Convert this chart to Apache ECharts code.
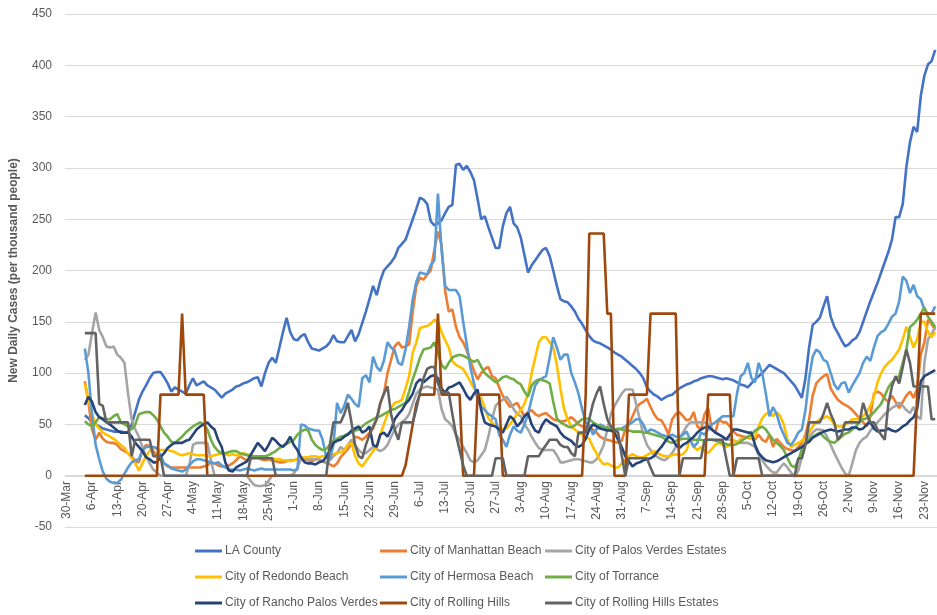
<!DOCTYPE html>
<html>
<head>
<meta charset="utf-8">
<script src="https://cdn.jsdelivr.net/npm/echarts@6/dist/echarts.min.js"></script>
<style>html,body{margin:0;padding:0;background:#fff}#c{width:937px;height:615px}</style>
</head>
<body>
<div id="c"></div>
<script>
// Daily categories 30-Mar .. 26-Nov; labels every 7th day
const MONTHS = ['Jan','Feb','Mar','Apr','May','Jun','Jul','Aug','Sep','Oct','Nov','Dec'];
const categories = [];
for (let d = new Date(Date.UTC(2020, 2, 30)), k = 0; k < 242; k++, d.setUTCDate(d.getUTCDate() + 1)) {
  categories.push(d.getUTCDate() + '-' + MONTHS[d.getUTCMonth()]);
}
// series values start on 4-Apr (index 5)
const leadNulls = [null, null, null, null, null];

const laCounty = [59,56,52,50,48,
46,45,44,43,43,43,42,42,50,62,
74,82,88,95,100,101,101,96,90,82,
86,84,82,80,88,95,88,90,92,88,
86,84,80,76,80,82,84,87,88,90,
91,93,95,96,87,100,110,115,110,125,
140,154,140,133,132,136,138,130,124,123,
122,124,126,130,137,131,130,130,136,142,
131,138,149,160,172,185,176,190,200,204,
208,213,222,226,230,240,250,260,271,269,
265,248,244,246,249,256,262,264,303,304,
298,302,296,288,270,250,253,242,232,222,
222,243,256,262,246,242,232,215,198,205,
210,215,220,222,214,200,185,172,170,169,
165,160,153,148,142,136,132,130,129,127,
125,123,120,118,116,113,110,107,104,100,
95,86,82,79,77,74,76,78,79,82,
85,87,89,90,92,93,95,96,97,97,
96,95,94,95,94,93,91,89,88,86,
90,94,97,100,104,108,106,104,102,100,
96,92,88,82,76,95,125,147,150,154,
165,175,155,145,139,132,126,128,132,134,
140,150,160,170,179,188,198,208,218,230,
252,252,265,301,325,340,335,370,390,401,
404,415];

const manhattan = [92,72,45,35,42,
36,33,32,32,30,26,24,22,19,14,
13,25,30,29,24,20,16,12,9,8,
8,8,8,8,8,8,8,8,9,10,
13,12,10,9,9,10,12,15,19,17,
15,16,19,18,16,15,16,15,14,13,
13,14,15,15,16,16,16,15,14,16,
16,14,13,11,9,12,18,22,26,32,
38,37,35,38,42,46,55,70,80,100,
113,126,130,125,126,128,160,185,193,191,
196,200,220,238,225,180,160,162,145,135,
130,122,112,102,94,100,104,106,97,95,
86,78,72,67,69,71,64,58,62,64,
60,58,60,61,58,55,54,53,53,55,
57,54,50,48,48,47,45,42,38,36,
35,34,33,32,34,45,50,58,66,70,
72,75,67,60,55,54,48,40,55,60,
62,58,54,55,62,48,45,60,66,45,
42,55,52,52,48,43,40,39,38,37,
36,35,40,35,33,40,28,36,32,28,
26,25,24,28,32,40,55,78,90,94,
97,99,85,79,74,71,69,67,64,60,
56,52,48,58,80,82,80,75,72,78,
72,66,72,78,82,76,85,118,130,152,
148,142];

const palosVerdesEstates = [113,118,139,159,142,
135,126,125,126,118,115,110,80,55,45,
38,28,19,12,6,3,0,0,0,0,
0,0,0,0,10,30,32,32,32,32,
15,0,0,0,0,0,0,0,0,0,
0,-5,-9,-10,-10,-9,-5,0,0,0,
0,0,0,2,8,16,16,16,16,16,
16,14,12,15,19,22,28,25,30,35,
30,25,22,22,25,28,26,24,26,30,
38,45,50,52,55,60,70,80,84,86,
87,86,85,84,65,55,52,48,40,35,
28,22,15,13,15,20,25,38,55,68,
72,74,77,72,65,60,58,50,45,38,
32,27,25,25,25,25,20,13,13,14,
15,16,16,15,14,13,13,16,22,30,
45,60,68,74,80,84,84,84,70,55,
40,30,25,20,18,16,15,18,22,28,
35,42,48,52,52,52,52,52,50,45,
42,40,38,36,35,34,33,32,32,32,
30,28,20,15,10,6,3,3,8,12,
8,3,-1,5,18,32,38,42,45,45,
44,38,30,22,15,8,2,0,12,25,
32,36,38,44,48,52,56,60,63,66,
68,71,68,64,61,67,58,55,110,133,
138,145];

const redondo = [90,75,60,50,46,
42,40,38,36,33,30,27,22,17,12,
5,12,19,24,28,26,25,25,25,24,
23,21,20,21,22,21,20,20,20,19,
19,20,21,22,21,20,21,20,20,22,
21,20,19,18,19,18,17,17,16,16,
15,15,14,15,16,17,18,18,19,19,
18,19,19,20,21,22,23,24,30,32,
19,12,9,14,19,24,28,40,50,60,
66,71,72,74,85,97,120,130,144,145,
146,148,152,150,140,132,125,112,108,106,
104,98,92,85,80,76,66,56,52,48,
46,45,46,50,55,60,64,70,80,100,
115,130,135,135,130,125,108,85,65,55,
48,45,42,40,38,36,28,22,15,11,
12,10,8,8,12,15,19,21,19,18,
18,20,22,24,22,20,19,19,20,21,
20,21,25,35,28,25,28,24,22,26,
30,32,30,28,30,35,32,36,36,38,
36,38,48,56,60,62,58,62,58,50,
35,28,30,32,34,37,42,48,52,55,
56,58,55,50,48,48,50,52,55,55,
56,58,62,68,77,91,100,106,110,113,
118,123,133,145,135,125,133,150,150,140,
135,140];

const hermosa = [124,100,60,30,16,
4,-3,-6,-7,-7,-4,2,8,13,15,
16,25,28,28,28,27,20,12,10,7,
6,5,4,6,10,14,16,16,15,14,
13,12,13,10,8,6,6,6,5,6,
7,6,5,6,7,6,6,6,6,6,
6,6,6,5,6,50,49,46,45,44,
44,35,18,16,30,71,61,68,79,75,
70,67,95,98,91,116,106,102,112,130,
125,122,110,108,123,145,172,189,198,197,
196,205,210,275,220,185,181,181,181,175,
150,128,106,90,74,67,64,60,58,55,
40,35,28,40,48,44,42,50,60,75,
88,93,95,97,115,135,125,113,118,118,
100,91,80,65,52,50,40,45,50,48,
46,45,44,45,46,48,50,52,55,55,
50,42,45,44,42,40,39,38,40,38,
38,40,43,35,28,32,42,40,45,50,
52,55,58,58,58,58,80,97,100,110,
95,91,110,100,80,58,67,60,48,40,
32,30,35,42,45,64,95,116,123,120,
113,111,100,89,84,90,91,81,88,94,
100,110,116,112,125,136,140,142,148,155,
158,170,194,190,178,186,175,172,162,158,
158,165];

const torrance = [53,50,48,52,57,
56,55,55,58,60,52,50,48,45,50,
60,61,62,62,59,55,48,42,38,33,
32,35,38,42,45,48,50,52,50,45,
35,28,24,22,22,23,24,24,22,21,
20,19,19,19,19,19,20,22,24,27,
29,31,33,35,40,43,45,44,35,30,
27,25,26,30,34,36,38,39,41,42,
44,45,48,51,53,55,57,58,60,62,
64,65,67,69,71,82,94,104,115,123,
124,125,130,120,108,104,110,115,117,118,
117,115,113,111,113,106,100,97,94,91,
93,96,97,95,94,91,89,82,77,88,
92,94,93,92,90,72,56,52,50,48,
47,49,52,55,56,55,52,50,48,47,
47,45,44,46,45,44,44,43,43,43,
42,42,41,40,39,38,36,33,32,34,
35,36,36,36,35,35,35,34,35,35,
34,33,32,31,30,30,31,33,36,38,
40,44,46,48,45,40,35,32,29,25,
17,10,8,15,26,32,35,38,40,42,
38,35,33,32,35,38,41,42,45,48,
52,55,56,58,62,66,70,78,86,91,
94,97,110,123,145,148,152,158,164,155,
150,145];

const ranchoPalosVerdes = [69,77,72,62,57,
55,52,50,47,44,42,42,42,38,32,
28,24,18,16,13,13,18,22,27,30,
32,32,32,34,35,40,45,48,50,52,
48,45,35,28,13,5,4,8,10,12,
14,20,26,32,28,24,30,37,34,30,
28,32,38,30,25,18,13,12,12,11,
13,14,18,25,32,34,35,38,40,44,
46,48,42,44,48,30,28,40,42,38,
45,55,60,64,70,74,80,90,94,91,
94,97,98,95,85,81,86,87,89,91,
85,78,74,80,84,64,52,50,49,48,
45,42,50,58,55,48,52,58,61,50,
44,42,50,55,52,50,48,42,38,36,
34,30,28,30,36,45,50,48,46,45,
44,44,42,35,28,19,14,9,12,13,
15,16,17,19,24,28,33,38,36,30,
27,30,32,35,38,42,45,47,48,45,
42,40,38,35,40,45,45,44,43,42,
42,30,22,18,15,14,13,14,16,18,
20,22,24,26,28,31,33,37,39,41,
43,44,45,44,43,44,45,45,47,47,
45,46,50,52,46,43,44,44,46,44,
43,45,48,50,54,57,65,92,97,99,
101,103];

const rollingHills = [0,0,0,0,0,
0,0,0,0,0,0,0,0,0,0,
0,0,0,0,0,0,79,79,79,79,
79,79,158,79,79,79,79,79,79,0,
0,0,0,0,0,0,0,0,0,0,
0,0,0,0,0,0,0,0,0,0,
0,0,0,0,0,0,0,0,0,0,
0,0,0,0,0,0,0,0,0,0,
0,0,0,0,0,0,0,0,0,0,
0,0,0,0,10,30,50,70,79,79,
79,79,79,158,79,79,79,79,79,79,
0,0,0,0,79,79,79,79,79,79,
79,0,0,0,0,0,0,0,0,0,
0,0,0,0,0,0,0,0,0,0,
0,0,0,0,79,236,236,236,236,236,
158,158,0,0,0,0,79,79,79,79,
79,79,158,158,158,158,158,158,158,158,
0,0,0,0,0,0,0,0,79,79,
79,79,79,79,79,0,0,0,0,0,
0,0,0,0,0,0,0,0,0,0,
0,0,0,0,0,0,0,0,0,0,
0,0,0,0,0,0,0,0,0,0,
0,0,0,0,0,0,0,0,0,0,
0,0,0,0,0,0,79,158,158,158,
158,158];

const rollingHillsEstates = [139,139,139,139,70,
68,52,52,52,52,52,52,52,19,35,
35,35,35,35,19,19,19,0,0,0,
0,0,0,0,0,0,0,0,0,0,
0,0,0,0,0,0,0,0,0,0,
0,17,17,17,17,17,17,17,0,0,
0,0,0,0,0,0,0,0,0,0,
0,0,0,30,52,52,52,60,71,52,
30,19,17,30,40,48,55,71,80,87,
60,45,35,52,52,52,52,65,81,95,
104,106,106,90,81,81,81,60,40,25,
10,0,0,0,0,0,0,0,0,17,
17,17,0,0,0,0,0,0,19,19,
19,19,25,30,35,35,35,30,28,28,
22,19,42,42,42,55,70,80,87,70,
55,48,45,42,20,0,17,17,17,17,
17,17,8,0,0,0,0,0,0,0,
0,17,17,17,17,17,17,35,35,35,
35,35,35,17,0,0,17,17,17,17,
17,17,17,0,0,0,0,0,0,0,
0,0,0,17,17,30,52,52,52,52,
60,71,60,52,35,40,52,52,52,52,
52,71,60,52,52,45,40,35,70,87,
97,90,106,123,110,87,87,87,87,87,
55,55];

const seriesNames = ['LA County','City of Manhattan Beach','City of Palos Verdes Estates',
  'City of Redondo Beach','City of Hermosa Beach','City of Torrance',
  'City of Rancho Palos Verdes','City of Rolling Hills','City of Rolling Hills Estates'];
const seriesColors = ['#4472C4','#ED7D31','#A5A5A5','#FFC000','#5B9BD5','#70AD47','#264478','#9E480E','#636363'];
const seriesValues = [laCounty, manhattan, palosVerdesEstates, redondo, hermosa, torrance,
  ranchoPalosVerdes, rollingHills, rollingHillsEstates];

const FONT = '"Liberation Sans", Arial, sans-serif';
const chart = echarts.init(document.getElementById('c'), null, {renderer: 'canvas'});

const series = seriesNames.map((name, k) => ({
  name: name,
  type: 'line',
  data: leadNulls.concat(seriesValues[k]),
  symbol: 'none',
  showSymbol: false,
  lineStyle: {width: 2.6, color: seriesColors[k]},
  itemStyle: {color: seriesColors[k]},
  emphasis: {disabled: true}
}));

const legendBase = {
  orient: 'vertical',
  top: 545,
  padding: 0,
  icon: 'rect',
  itemWidth: 27,
  itemHeight: 3,
  itemGap: 14,
  selectedMode: false,
  textStyle: {color: '#595959', fontSize: 12, fontFamily: FONT, padding: [0, 0, 0, -2]}
};

chart.setOption({
  animation: false,
  backgroundColor: '#ffffff',
  color: seriesColors,
  grid: {left: 63, right: 0, top: 14, bottom: 88, containLabel: false},
  xAxis: {
    type: 'category',
    data: categories,
    boundaryGap: true,
    offset: -51,
    axisLine: {show: true, onZero: false, lineStyle: {color: '#d9d9d9', width: 1}},
    axisTick: {show: false},
    axisLabel: {interval: 6, rotate: 90, color: '#595959', fontSize: 12, fontFamily: FONT, margin: 5},
    splitLine: {show: false}
  },
  yAxis: {
    type: 'value',
    min: -50,
    max: 450,
    interval: 50,
    name: 'New Daily Cases (per thousand people)',
    nameLocation: 'middle',
    nameGap: 45,
    nameTextStyle: {color: '#595959', fontSize: 12, fontWeight: 'bold', fontFamily: FONT},
    axisLine: {show: false},
    axisTick: {show: false},
    axisLabel: {color: '#595959', fontSize: 12, fontFamily: FONT, margin: 13},
    splitLine: {lineStyle: {color: '#d9d9d9', width: 1}}
  },
  legend: [
    Object.assign({}, legendBase, {left: 195, data: [seriesNames[0], seriesNames[3], seriesNames[6]]}),
    Object.assign({}, legendBase, {left: 380, data: [seriesNames[1], seriesNames[4], seriesNames[7]]}),
    Object.assign({}, legendBase, {left: 545, data: [seriesNames[2], seriesNames[5], seriesNames[8]]})
  ],
  series: series
});
</script>
</body>
</html>
